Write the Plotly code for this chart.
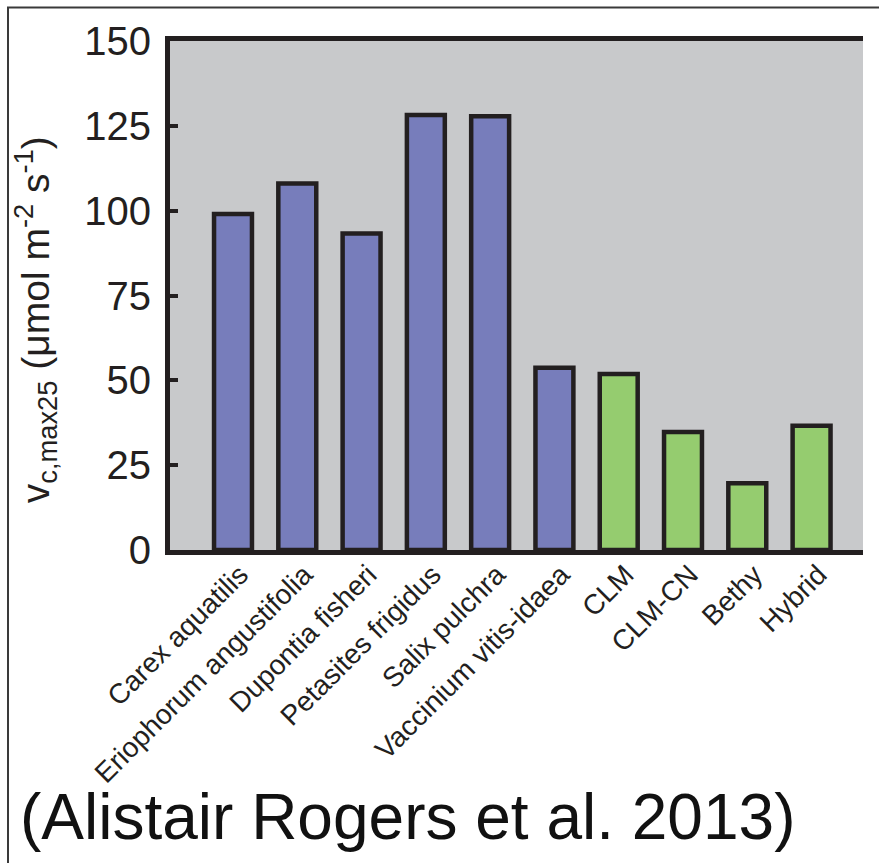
import plotly.graph_objects as go

categories = ["Carex aquatilis", "Eriophorum angustifolia", "Dupontia fisheri",
              "Petasites frigidus", "Salix pulchra", "Vaccinium vitis-idaea",
              "CLM", "CLM-CN", "Bethy", "Hybrid"]
values = [99, 108, 93.3, 128.2, 127.8, 53.7, 51.9, 34.8, 19.7, 36.6]
groups = ["species"] * 6 + ["model"] * 4
y_ticks = [0, 25, 50, 75, 100, 125, 150]
caption = "(Alistair Rogers et al. 2013)"

W, H = 879, 863
L, R, T, B = 170, 863, 40.5, 550
pw, ph = R - L, B - T

def px(x):
    return (x - L) / pw

def py(y):
    return (B - y) / ph

color_map = {"species": "#777DBB", "model": "#95CC6F"}
idx = list(range(len(categories)))

fig = go.Figure()
fig.add_trace(go.Bar(
    x=idx, y=values, width=0.59,
    marker=dict(color=[color_map[g] for g in groups],
                line=dict(color="#231F20", width=4.5)),
    showlegend=False,
))

fig.update_layout(
    width=W, height=H,
    margin=dict(l=L, r=W - R, t=T, b=H - B, pad=0),
    paper_bgcolor="white",
    plot_bgcolor="#C8C9CB",
    font=dict(family="Liberation Sans, Arial, sans-serif", color="#231F20"),
    bargap=0.4,
)
fig.update_xaxes(
    range=[-0.98, 9.8], tickmode="array", tickvals=idx, ticktext=categories,
    tickangle=-45, tickfont=dict(size=28, color="#231F20"),
    ticklabelstandoff=-8, ticklabelshift=7,
    showline=True, linecolor="#231F20", linewidth=5, mirror=True,
    ticks="", showgrid=False, zeroline=False,
)
fig.update_yaxes(
    range=[0, 150], tickmode="array", tickvals=y_ticks,
    tickfont=dict(size=40, color="#231F20"),
    showline=True, linecolor="#231F20", linewidth=5, mirror=False,
    ticks="inside", ticklen=8, tickwidth=4, tickcolor="#231F20",
    ticklabelstandoff=6,
    showgrid=False, zeroline=False,
)

fig.add_annotation(
    xref="paper", yref="paper", x=px(36), y=py(320),
    text="v<sub>c,max25</sub> (μmol m<sup>-2</sup> s<sup>-1</sup>)",
    textangle=-90, showarrow=False, xanchor="center", yanchor="middle",
    font=dict(size=39, color="#231F20"),
)
fig.add_annotation(
    xref="paper", yref="paper", x=px(18), y=py(817),
    text=caption, showarrow=False, xanchor="left", yanchor="middle",
    font=dict(size=64, color="#111111"),
)

# outer frame (left and top)
fig.add_shape(type="line", xref="paper", yref="paper",
              x0=px(8), y0=py(880), x1=px(8), y1=py(7),
              line=dict(color="#3A3A3A", width=2))
fig.add_shape(type="line", xref="paper", yref="paper",
              x0=px(7), y0=py(7), x1=px(885), y1=py(7),
              line=dict(color="#3A3A3A", width=2))

fig.write_html("out.html", config={"displayModeBar": False},
               post_script="document.body.style.margin='0';document.body.style.overflow='hidden';")
